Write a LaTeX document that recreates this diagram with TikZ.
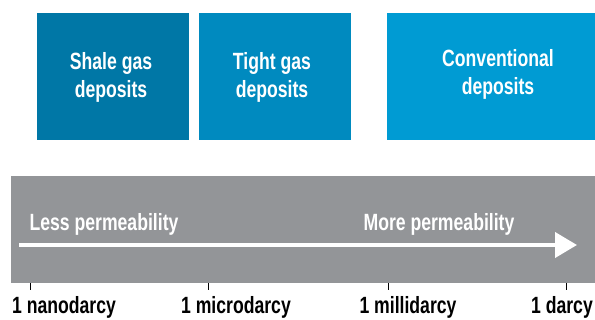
\documentclass[tikz,border=0pt]{standalone}
\usepackage{fontspec}
\setmainfont{Liberation Sans}[FakeStretch=0.75]
\usetikzlibrary{arrows.meta}

\definecolor{shaleblue}{HTML}{0077A6}
\definecolor{tightblue}{HTML}{008ABF}
\definecolor{convblue}{HTML}{009BD3}
\definecolor{bandgray}{HTML}{939598}

\begin{document}
\begin{tikzpicture}[x=1pt, y=-1pt,
    every node/.style={font=\bfseries\fontsize{23.5}{28}\selectfont, align=center},
    depbox/.style={inner sep=0pt, text=white},
    scalelabel/.style={text=black, anchor=center}]
    \useasboundingbox (0, 0) rectangle (595, 320);

    \fill[shaleblue] (37, 13) rectangle (189, 140);
    \fill[tightblue] (199, 13) rectangle (351, 140);
    \fill[convblue] (387, 13) rectangle (595, 140);
    \fill[bandgray] (11, 176) rectangle (595, 283);

    \node[depbox] (shale) at (111, 77) {Shale gas\\deposits};
    \node[depbox] (tight) at (272, 77) {Tight gas\\deposits};
    \node[depbox] (conv) at (498, 74) {Conventional\\deposits};

    \node[depbox] (less) at (104, 224) {Less permeability};
    \node[depbox] (more) at (439, 224) {More permeability};

    \coordinate (arrstart) at (19, 245);
    \coordinate (arrend) at (577, 245);
    \draw[white, line width=4pt, -{Triangle[length=22pt, width=25pt]}] (arrstart) -- (arrend);

    \coordinate (t1) at (30, 283);
    \coordinate (t2) at (208, 283);
    \coordinate (t3) at (388, 283);
    \coordinate (t4) at (566, 283);
    \foreach \t in {t1, t2, t3, t4}
        \draw[black, line width=0.8pt] (\t) -- ++(0, 7);

    \node[scalelabel] (nano) at (64, 307.5) {1 nanodarcy};
    \node[scalelabel] (micro) at (236, 307.5) {1 microdarcy};
    \node[scalelabel] (milli) at (408, 307.5) {1 millidarcy};
    \node[scalelabel] (darcy) at (562, 307.5) {1 darcy};
\end{tikzpicture}
\end{document}
